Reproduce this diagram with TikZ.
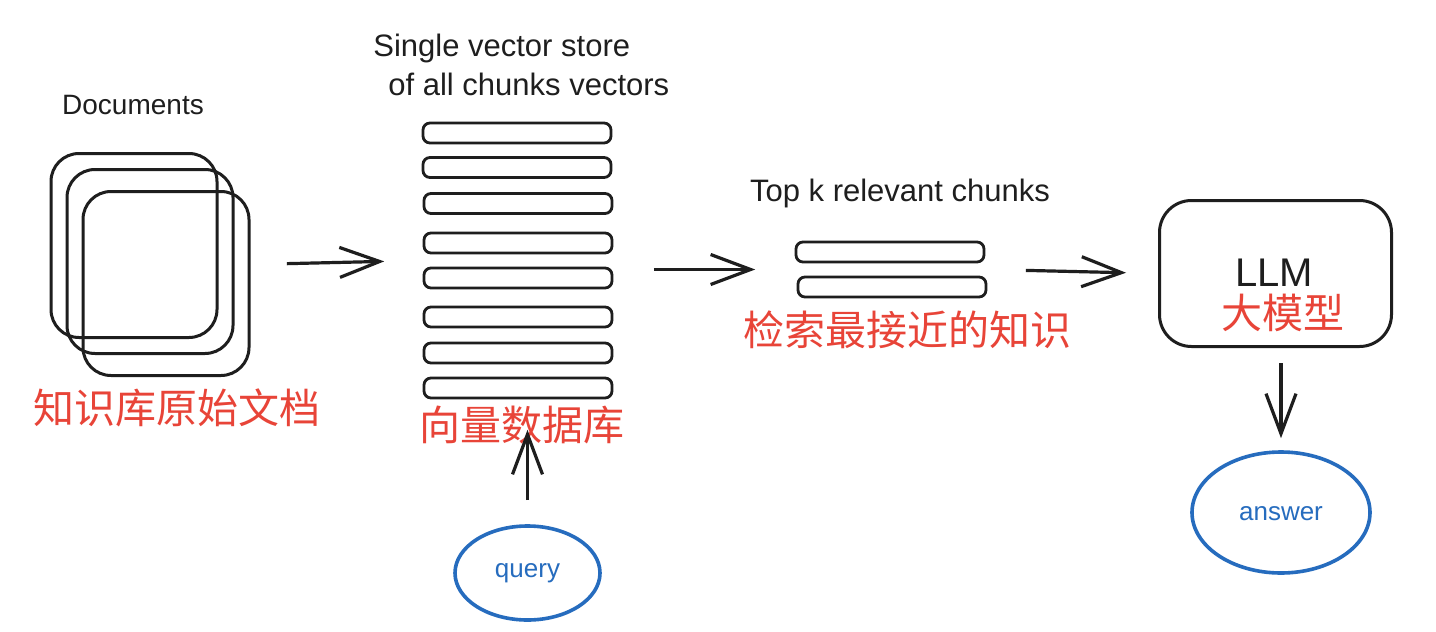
\documentclass[tikz,border=0pt]{standalone}
\usepackage{fontspec}
\setmainfont{Liberation Sans}
\newfontfamily\cjk{Noto Sans CJK SC}
\usetikzlibrary{arrows.meta,fit,shapes.geometric}
\definecolor{inkc}{RGB}{30,30,30}
\definecolor{redc}{RGB}{232,68,56}
\definecolor{bluec}{RGB}{38,108,190}
\begin{document}
\begin{tikzpicture}[x=0.5pt,y=-0.5pt,
  bar/.style={draw=inkc, line width=1.4pt, rounded corners=3.5pt, minimum width=94pt, minimum height=10pt, inner sep=0pt},
  docbox/.style={draw=inkc, line width=1.5pt, rounded corners=14pt, minimum width=83pt, minimum height=92pt, inner sep=0pt},
  llmbox/.style={draw=inkc, line width=1.5pt, rounded corners=16pt, minimum width=116pt, minimum height=73pt, inner sep=0pt},
  arr/.style={draw=inkc, line width=1.6pt, -{Straight Barb[length=20pt,width=15pt,line width=1.6pt]}},
  hand/.style={text=inkc, font=\fontsize{15.5}{18}\selectfont, inner sep=0pt},
  zh/.style={text=redc, font=\cjk\fontsize{20.5}{24}\selectfont, inner sep=0pt},
  bubble/.style={ellipse, draw=bluec, line width=1.8pt, inner sep=0pt},
  bubbletext/.style={text=bluec, font=\fontsize{13}{15}\selectfont, inner sep=0pt},
  group/.style={inner sep=0pt, draw=none}
]
\useasboundingbox (0,0) rectangle (1436,632);
\fill[white] (0,0) rectangle (1436,632);

% documents
\node[docbox] (doc1) at (134,245.5) {};
\node[docbox] (doc2) at (150,261.5) {};
\node[docbox] (doc3) at (166,283.5) {};
\node[group, fit=(doc1)(doc2)(doc3)] (docs) {};
\node[hand, font=\fontsize{14}{16}\selectfont] (doclbl) at (133,105) {Documents};
\node[zh] (doczh) at (177,408) {知识库原始文档};

% vector store
\node[bar] (v1) at (517,133) {};
\node[bar] (v2) at (517,167.5) {};
\node[bar] (v3) at (518,203.5) {};
\node[bar] (v4) at (518,243) {};
\node[bar] (v5) at (518,278) {};
\node[bar] (v6) at (518,317) {};
\node[bar] (v7) at (518,353) {};
\node[bar] (v8) at (518,388) {};
\node[group, fit=(v1)(v8)] (store) {};
\node[hand, anchor=west] (storelbl1) at (373,48) {Single vector store};
\node[hand, anchor=west] (storelbl2) at (388,84) {of all chunks vectors};
\node[zh] (storezh) at (522,425) {向量数据库};

% top k
\node[bar] (k1) at (890,252) {};
\node[bar] (k2) at (892,287) {};
\node[group, fit=(k1)(k2)] (topk) {};
\node[hand] (topklbl) at (900,193) {Top k relevant chunks};
\node[zh] (topkzh) at (907,330) {检索最接近的知识};

% LLM
\node[llmbox] (llm) at (1275.5,273.5) {};
\node[hand, font=\fontsize{20}{22}\selectfont] (llmlbl) at (1274,273) {LLM};
\node[zh] (llmzh) at (1283,313) {大模型};

% bubbles
\node[bubble, minimum width=72.5pt, minimum height=47pt] (query) at (527.5,573) {};
\node[bubbletext] (querylbl) at (527.5,573) {query};
\node[bubble, minimum width=89pt, minimum height=60.5pt] (answer) at (1281,512.5) {};
\node[bubbletext] (answerlbl) at (1281,514) {answer};

% connectors
\draw[arr, shorten <=18pt, shorten >=18.5pt] (docs.east) -- (store.west);
\draw[arr, shorten <=20pt, shorten >=19.5pt] (store.east |- topk.west) -- (topk.west);
\draw[arr, shorten <=19pt, shorten >=16pt] (topk.east) -- (llm.west);
\draw[arr, shorten <=7.5pt, shorten >=6pt] (llm.south -| answer.north) -- (answer.north);
\draw[arr, shorten <=12pt, shorten >=15pt] (query.north) -- (query.north |- store.south);
\end{tikzpicture}
\end{document}
